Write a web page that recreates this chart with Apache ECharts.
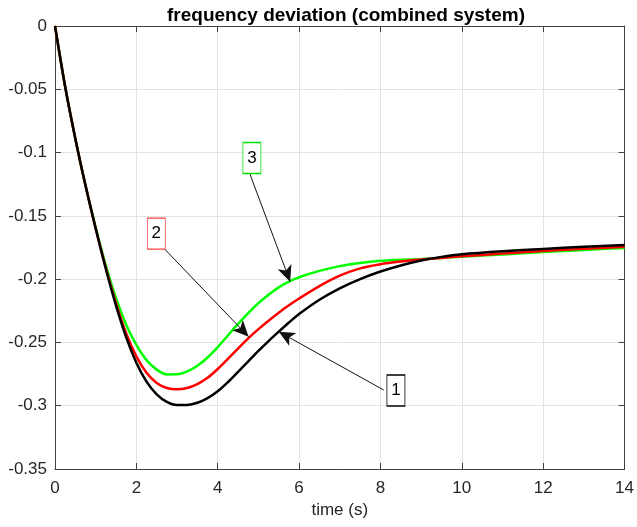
<!DOCTYPE html>
<html>
<head>
<meta charset="utf-8">
<script src="https://cdn.jsdelivr.net/npm/echarts@6/dist/echarts.min.js"></script>
<style>
  html, body { margin: 0; padding: 0; background: #fff; }
  #main { width: 637px; height: 527px; }
</style>
</head>
<body>
<div id="main"></div>
<script>
// time samples (s)
let time = [0, 0.25, 0.5, 0.75, 1, 1.25, 1.5, 1.75, 2, 2.25, 2.5, 2.75, 3, 3.25, 3.5, 3.75,
  4, 4.25, 4.5, 4.75, 5, 5.25, 5.5, 5.75, 6, 6.5, 7, 7.5, 8, 8.5, 9, 9.5, 10, 11, 12, 13, 14];

// curve 1 (black)
let curve1 = [0, -0.048, -0.089, -0.126, -0.160, -0.192, -0.221, -0.246, -0.266, -0.281, -0.291, -0.297,
  -0.2995, -0.2994, -0.2977, -0.2940, -0.2886, -0.2814, -0.2732, -0.2650, -0.2567, -0.2489, -0.2415,
  -0.2343, -0.2276, -0.2163, -0.2073, -0.2000, -0.1940, -0.1892, -0.1853, -0.1824, -0.1803,
  -0.1779, -0.1761, -0.1745, -0.1730];

// curve 2 (red)
let curve2 = [0, -0.048, -0.089, -0.126, -0.160, -0.191, -0.219, -0.243, -0.261, -0.274, -0.282, -0.286,
  -0.2870, -0.2860, -0.2830, -0.2780, -0.2710, -0.2630, -0.2548, -0.2468, -0.2395, -0.2328, -0.2265,
  -0.2207, -0.2153, -0.2055, -0.1973, -0.1915, -0.1882, -0.1861, -0.1845, -0.1832, -0.1820,
  -0.1797, -0.1777, -0.1760, -0.1745];

// curve 3 (green)
let curve3 = [0, -0.048, -0.089, -0.126, -0.159, -0.189, -0.215, -0.236, -0.252, -0.264, -0.2715, -0.2753,
  -0.2752, -0.2729, -0.2684, -0.2619, -0.2537, -0.2445, -0.2354, -0.2268, -0.2190, -0.2123, -0.2065,
  -0.2020, -0.1985, -0.1935, -0.1897, -0.1872, -0.1855, -0.1847, -0.1841, -0.1832, -0.1823,
  -0.1805, -0.1786, -0.1769, -0.1753];

// annotations: label text, box centre, arrow tail, arrow tip (data coords)
let noteText = ['1', '2', '3'];
let noteBox = [[8.38, -0.288], [2.49, -0.164], [4.84, -0.1043]];
let noteTail = [[8.08, -0.2876], [2.64, -0.1744], [4.76, -0.1143]];
let noteTip = [[5.5, -0.2415], [4.76, -0.2455], [5.78, -0.202]];

let colors = ['#000000', '#ff0000', '#00ff00'];
let boxColors = ['#000000', '#ff4040', '#00e000'];
let curves = [curve1, curve2, curve3];

let chartDom = document.getElementById('main');
let myChart = echarts.init(chartDom);

let textColor = '#262626';
let fontFamily = 'Liberation Sans, Arial, sans-serif';

function axisBase() {
  return {
    type: 'value',
    axisLine: { show: true, onZero: false, lineStyle: { color: '#404040', width: 1 } },
    axisTick: { show: true, inside: true, length: 6, lineStyle: { color: '#404040' } },
    splitLine: { show: false }
  };
}

let xMain = Object.assign(axisBase(), {
  min: 0, max: 14, interval: 2, position: 'bottom',
  splitLine: { show: true, lineStyle: { color: '#e3e3e3', width: 1 } },
  axisLabel: { color: textColor, fontSize: 17, fontFamily: fontFamily, margin: 11 },
  name: 'time (s)', nameLocation: 'middle', nameGap: 30,
  nameTextStyle: { color: textColor, fontSize: 17, fontFamily: fontFamily }
});
let xTop = Object.assign(axisBase(), {
  min: 0, max: 14, interval: 2, position: 'top', axisLabel: { show: false }
});
let yMain = Object.assign(axisBase(), {
  min: -0.35, max: 0, interval: 0.05, position: 'left',
  splitLine: { show: true, lineStyle: { color: '#e3e3e3', width: 1 } },
  axisLabel: { color: textColor, fontSize: 17, fontFamily: fontFamily, margin: 8 }
});
let yRight = Object.assign(axisBase(), {
  min: -0.35, max: 0, interval: 0.05, position: 'right', axisLabel: { show: false }
});

let series = curves.map(function (c, i) {
  return {
    type: 'line',
    data: time.map(function (t, k) { return [t, c[k]]; }),
    showSymbol: false,
    smooth: 0.3,
    lineStyle: { color: colors[i], width: 2.5 },
    itemStyle: { color: colors[i] },
    z: 3 - i,
    markLine: {
      silent: true,
      animation: false,
      symbol: ['none', 'arrow'],
      symbolSize: [11, 16],
      label: { show: false },
      lineStyle: { color: '#111111', width: 1, type: 'solid' },
      data: [[{ coord: noteTail[i] }, { coord: noteTip[i] }]]
    },
    markPoint: {
      silent: true,
      animation: false,
      symbol: 'rect',
      symbolSize: [18, 31],
      itemStyle: { color: '#ffffff', borderColor: boxColors[i], borderWidth: 1 },
      label: {
        show: true, position: 'inside', formatter: noteText[i],
        color: '#000', fontSize: 17, fontFamily: fontFamily
      },
      data: [{ coord: noteBox[i] }]
    }
  };
});

let option = {
  animation: false,
  title: {
    text: 'frequency deviation (combined system)',
    left: 341, top: 1, textAlign: 'center',
    textStyle: { color: '#000', fontSize: 19, fontWeight: 'bold', fontFamily: fontFamily }
  },
  grid: { left: 55, right: 9, top: 26, bottom: 58, containLabel: false },
  xAxis: [xMain, xTop],
  yAxis: [yMain, yRight],
  series: series
};

option && myChart.setOption(option);
</script>
</body>
</html>
